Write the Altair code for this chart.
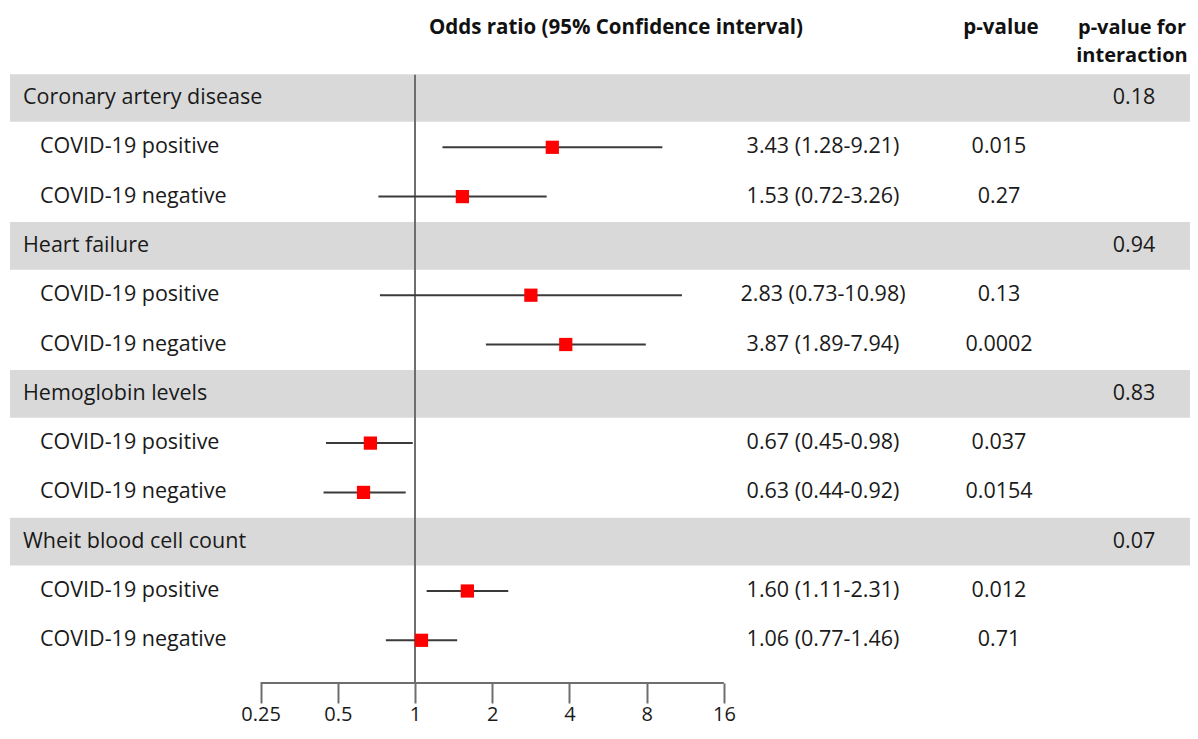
import altair as alt
import pandas as pd

# ---------------- data ----------------
groups = ["Coronary artery disease", "Heart failure", "Hemoglobin levels", "Wheit blood cell count"]
interaction_p = ["0.18", "0.94", "0.83", "0.07"]
sub_labels = ["COVID-19 positive", "COVID-19 negative"]
or_vals = [3.43, 1.53, 2.83, 3.87, 0.67, 0.63, 1.60, 1.06]
ci_low = [1.28, 0.72, 0.73, 1.89, 0.45, 0.44, 1.11, 0.77]
ci_high = [9.21, 3.26, 10.98, 7.94, 0.98, 0.92, 2.31, 1.46]
p_values = ["0.015", "0.27", "0.13", "0.0002", "0.037", "0.0154", "0.012", "0.71"]
tick_values = [0.25, 0.5, 1, 2, 4, 8, 16]
header_texts = ["Odds ratio (95% Confidence interval)", "p-value", "p-value for", "interaction"]

# ---------------- layout ----------------
W, H = 1182, 675
FONT = "Open Sans"
BODY = 21.5
HEAD = 20.5
px_per_doubling = 77.22
x_one = 415.0 - 8  # view x of OR = 1
x_dom = [2 ** ((0 - x_one) / px_per_doubling), 2 ** ((W - x_one) / px_per_doubling)]
row0 = 98 - 8
row_h = 49.3
y_dom = [(0 - row0) / row_h, (H - row0) / row_h]
band_half = 0.484

head_rows = pd.DataFrame({
    "row": [3 * i for i in range(len(groups))],
    "label": groups,
    "pint": interaction_p,
})
head_rows["top"] = head_rows["row"] - band_half
head_rows["bot"] = head_rows["row"] + band_half

sub = pd.DataFrame({
    "row": [3 * (i // 2) + 1 + (i % 2) for i in range(len(or_vals))],
    "label": [sub_labels[i % 2] for i in range(len(or_vals))],
    "or": or_vals,
    "lo": ci_low,
    "hi": ci_high,
    "p": p_values,
})
sub["ortext"] = [f"{o:.2f} ({l:.2f}-{h:.2f})" for o, l, h in zip(sub["or"], sub["lo"], sub["hi"])]

xs = alt.Scale(type="log", base=2, domain=x_dom, nice=False, zero=False)
ys = alt.Scale(domain=y_dom, reverse=True, nice=False, zero=False)

x_axis = alt.Axis(
    values=tick_values, format="~g", domain=False, grid=False, title=None,
    ticks=True, tickSize=20, tickWidth=2, tickColor="#6e6e6e",
    labelFontSize=20, labelFont=FONT, labelColor="#1a1a1a", labelPadding=1,
    labelFlush=False, labelOverlap=False,
)

bands = alt.Chart(head_rows).mark_rect(color="#d9d9d9").encode(
    x=alt.value(2), x2=alt.value(W),
    y=alt.Y("top:Q", scale=ys, axis=None), y2="bot:Q",
)

vline = alt.Chart(pd.DataFrame({"v": [1], "top": [-0.47]})).mark_rule(
    color="#6e6e6e", strokeWidth=2).encode(
    x=alt.X("v:Q", scale=xs, axis=x_axis),
    y=alt.Y("top:Q", scale=ys, axis=None),
    y2=alt.value(H),
)

hline = alt.Chart(pd.DataFrame({"a": [tick_values[0]], "b": [tick_values[-1]]})).mark_rule(
    color="#6e6e6e", strokeWidth=2).encode(
    x=alt.X("a:Q", scale=xs), x2="b:Q", y=alt.value(H),
)

ci = alt.Chart(sub).mark_rule(color="#3a3a3a", strokeWidth=2).encode(
    x=alt.X("lo:Q", scale=xs), x2="hi:Q",
    y=alt.Y("row:Q", scale=ys, axis=None),
)

pts = alt.Chart(sub).mark_square(color="#ff0000", opacity=1, size=175).encode(
    x=alt.X("or:Q", scale=xs),
    y=alt.Y("row:Q", scale=ys, axis=None),
)

txt_kw = dict(font=FONT, fontSize=BODY, color="#1a1a1a", baseline="middle")

head_lbl = alt.Chart(head_rows).mark_text(align="left", **txt_kw).encode(
    x=alt.value(15), y=alt.Y("row:Q", scale=ys, axis=None), text="label:N")
head_p = alt.Chart(head_rows).mark_text(align="center", **txt_kw).encode(
    x=alt.value(1126), y=alt.Y("row:Q", scale=ys, axis=None), text="pint:N")
sub_lbl = alt.Chart(sub).mark_text(align="left", **txt_kw).encode(
    x=alt.value(32), y=alt.Y("row:Q", scale=ys, axis=None), text="label:N")
sub_or = alt.Chart(sub).mark_text(align="center", **txt_kw).encode(
    x=alt.value(815), y=alt.Y("row:Q", scale=ys, axis=None), text="ortext:N")
sub_p = alt.Chart(sub).mark_text(align="center", **txt_kw).encode(
    x=alt.value(991), y=alt.Y("row:Q", scale=ys, axis=None), text="p:N")

hdr_x = [608, 993, 1124, 1124]
hdr_y = [20, 20, 20, 48]
hdr_size = [HEAD, HEAD, 20, 20]
hdr_layers = [
    alt.Chart(pd.DataFrame({"t": [header_texts[i]]})).mark_text(
        align="center", baseline="middle", font=FONT, fontSize=hdr_size[i], fontWeight="bold",
        color="#111111"
    ).encode(x=alt.value(hdr_x[i]), y=alt.value(hdr_y[i]), text="t:N")
    for i in range(len(header_texts))
]

chart = alt.layer(
    bands, vline, hline, ci, pts, head_lbl, head_p, sub_lbl, sub_or, sub_p, *hdr_layers
).properties(
    width=W, height=H,
    padding={"left": 0, "top": 0, "right": 0, "bottom": 48},
    autosize=alt.AutoSizeParams(type="none"),
    background="white",
).configure_view(stroke=None)

chart.save("out.html", embed_options={"renderer": "svg", "actions": False})
